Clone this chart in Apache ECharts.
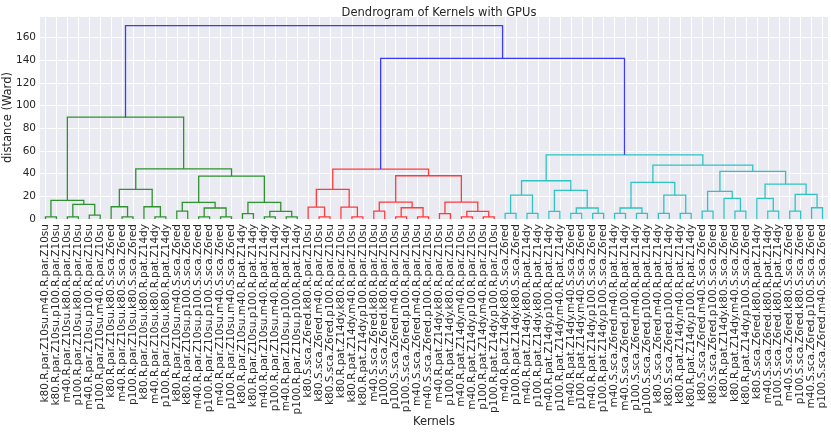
<!DOCTYPE html>
<html>
<head>
<meta charset="utf-8">
<title>Dendrogram of Kernels with GPUs</title>
<script src="https://cdn.jsdelivr.net/npm/echarts@6/dist/echarts.min.js"></script>
<style>
    html, body { margin: 0; padding: 0; background: #fff; }
    #dendro { width: 831px; height: 432px; }
</style>
</head>
<body>
<div id="dendro"></div>
<script>
// leaves, in the order the dendrogram draws them
var leafLabels = [
    'k80.R.par.Z10su.m40.R.par.Z10su', 'k80.R.par.Z10su.p100.R.par.Z10su',
    'm40.R.par.Z10su.k80.R.par.Z10su', 'p100.R.par.Z10su.k80.R.par.Z10su',
    'm40.R.par.Z10su.p100.R.par.Z10su', 'p100.R.par.Z10su.m40.R.par.Z10su',
    'k80.R.par.Z10su.k80.S.sca.Z6red', 'm40.R.par.Z10su.k80.S.sca.Z6red',
    'p100.R.par.Z10su.k80.S.sca.Z6red', 'k80.R.par.Z10su.k80.R.pat.Z14dy',
    'm40.R.par.Z10su.k80.R.pat.Z14dy', 'p100.R.par.Z10su.k80.R.pat.Z14dy',
    'k80.R.par.Z10su.m40.S.sca.Z6red', 'k80.R.par.Z10su.p100.S.sca.Z6red',
    'm40.R.par.Z10su.p100.S.sca.Z6red', 'p100.R.par.Z10su.p100.S.sca.Z6red',
    'm40.R.par.Z10su.m40.S.sca.Z6red', 'p100.R.par.Z10su.m40.S.sca.Z6red',
    'k80.R.par.Z10su.m40.R.pat.Z14dy', 'k80.R.par.Z10su.p100.R.pat.Z14dy',
    'm40.R.par.Z10su.m40.R.pat.Z14dy', 'p100.R.par.Z10su.m40.R.pat.Z14dy',
    'm40.R.par.Z10su.p100.R.pat.Z14dy', 'p100.R.par.Z10su.p100.R.pat.Z14dy',
    'k80.S.sca.Z6red.k80.R.par.Z10su', 'k80.S.sca.Z6red.m40.R.par.Z10su',
    'k80.S.sca.Z6red.p100.R.par.Z10su', 'k80.R.pat.Z14dy.k80.R.par.Z10su',
    'k80.R.pat.Z14dy.m40.R.par.Z10su', 'k80.R.pat.Z14dy.p100.R.par.Z10su',
    'm40.S.sca.Z6red.k80.R.par.Z10su', 'p100.S.sca.Z6red.k80.R.par.Z10su',
    'p100.S.sca.Z6red.m40.R.par.Z10su', 'p100.S.sca.Z6red.p100.R.par.Z10su',
    'm40.S.sca.Z6red.m40.R.par.Z10su', 'm40.S.sca.Z6red.p100.R.par.Z10su',
    'm40.R.pat.Z14dy.k80.R.par.Z10su', 'p100.R.pat.Z14dy.k80.R.par.Z10su',
    'm40.R.pat.Z14dy.m40.R.par.Z10su', 'm40.R.pat.Z14dy.p100.R.par.Z10su',
    'p100.R.pat.Z14dy.m40.R.par.Z10su', 'p100.R.pat.Z14dy.p100.R.par.Z10su',
    'm40.R.pat.Z14dy.k80.S.sca.Z6red', 'p100.R.pat.Z14dy.k80.S.sca.Z6red',
    'm40.R.pat.Z14dy.k80.R.pat.Z14dy', 'p100.R.pat.Z14dy.k80.R.pat.Z14dy',
    'm40.R.pat.Z14dy.p100.R.pat.Z14dy', 'p100.R.pat.Z14dy.m40.R.pat.Z14dy',
    'm40.R.pat.Z14dy.m40.S.sca.Z6red', 'p100.R.pat.Z14dy.m40.S.sca.Z6red',
    'm40.R.pat.Z14dy.p100.S.sca.Z6red', 'p100.R.pat.Z14dy.p100.S.sca.Z6red',
    'm40.S.sca.Z6red.m40.R.pat.Z14dy', 'm40.S.sca.Z6red.p100.R.pat.Z14dy',
    'p100.S.sca.Z6red.m40.R.pat.Z14dy', 'p100.S.sca.Z6red.p100.R.pat.Z14dy',
    'k80.S.sca.Z6red.m40.R.pat.Z14dy', 'k80.S.sca.Z6red.p100.R.pat.Z14dy',
    'k80.R.pat.Z14dy.m40.R.pat.Z14dy', 'k80.R.pat.Z14dy.p100.R.pat.Z14dy',
    'k80.S.sca.Z6red.m40.S.sca.Z6red', 'k80.S.sca.Z6red.p100.S.sca.Z6red',
    'k80.R.pat.Z14dy.k80.S.sca.Z6red', 'k80.R.pat.Z14dy.m40.S.sca.Z6red',
    'k80.R.pat.Z14dy.p100.S.sca.Z6red', 'k80.S.sca.Z6red.k80.R.pat.Z14dy',
    'm40.S.sca.Z6red.k80.R.pat.Z14dy', 'p100.S.sca.Z6red.k80.R.pat.Z14dy',
    'm40.S.sca.Z6red.k80.S.sca.Z6red', 'p100.S.sca.Z6red.k80.S.sca.Z6red',
    'm40.S.sca.Z6red.p100.S.sca.Z6red', 'p100.S.sca.Z6red.m40.S.sca.Z6red'
];

// linkage rows [left, right, distance]; ids 0..71 are leaves, row k makes cluster 72 + k
var greenMerges = [
    [0, 1, 1.8], [2, 3, 1.8], [4, 5, 3.5], [73, 74, 12.9], [72, 75, 16.4],
    [7, 8, 1.8], [6, 77, 10.8], [10, 11, 1.8], [9, 79, 10.8], [78, 80, 26.1],
    [12, 13, 7.0], [14, 15, 1.8], [16, 17, 1.8], [83, 84, 9.7], [82, 85, 14.7],
    [18, 19, 4.7], [20, 21, 1.8], [22, 23, 1.8], [88, 89, 6.8], [87, 90, 14.7],
    [86, 91, 37.8], [81, 92, 44.2], [76, 93, 89.7]
];
var redMerges = [
    [25, 26, 1.8], [24, 95, 10.5], [28, 29, 1.8], [27, 97, 10.5], [96, 98, 26.1],
    [30, 31, 7.0], [32, 33, 1.8], [34, 35, 1.8], [101, 102, 9.9], [100, 103, 14.9],
    [36, 37, 4.7], [38, 39, 1.8], [40, 41, 1.8], [106, 107, 6.8], [105, 108, 14.9],
    [104, 109, 38.1], [99, 110, 44.0]
];
var cyanMerges = [
    [42, 43, 5.0], [44, 45, 5.0], [112, 113, 21.1], [46, 47, 6.8], [48, 49, 5.0],
    [50, 51, 5.0], [116, 117, 9.7], [115, 118, 25.2], [114, 119, 33.7],
    [52, 53, 5.0], [54, 55, 5.0], [121, 122, 9.7], [56, 57, 5.0], [58, 59, 5.0],
    [124, 125, 21.1], [123, 126, 32.3], [60, 61, 7.0], [63, 64, 7.0], [62, 129, 18.2],
    [128, 130, 24.4], [66, 67, 7.0], [65, 132, 18.2], [68, 69, 7.0], [70, 71, 9.9],
    [134, 135, 21.7], [133, 136, 30.8], [131, 137, 41.9], [127, 138, 47.5],
    [120, 139, 56.5]
];
var topMerges = [
    [111, 140, 141.5], [94, 141, 170.3]
];

var clusterColors = ['#2e922e', '#ff3b3b', '#2ec4c4'];
var aboveColor = '#3b3bff';

var merges = greenMerges.concat(redMerges, cyanMerges, topMerges);
var n = leafLabels.length;

// same layout as scipy: leaf i sits at 5 + 10 * i, a cluster sits between its children
var nodeX = [], nodeH = [];
for (var i = 0; i < n; i++) {
    nodeX[i] = 5 + 10 * i;
    nodeH[i] = 0;
}
merges.forEach(function (m, k) {
    nodeX[n + k] = (nodeX[m[0]] + nodeX[m[1]]) / 2;
    nodeH[n + k] = m[2];
});

var root = n + merges.length - 1;
var threshold = 0.7 * nodeH[root];
var nodeColor = {};
var nextColor = 0;
function paint(id, color) {
    if (id < n) return;
    if (!color && nodeH[id] < threshold) {
        color = clusterColors[nextColor++ % clusterColors.length];
    }
    nodeColor[id] = color || aboveColor;
    var m = merges[id - n];
    paint(m[0], color);
    paint(m[1], color);
}
paint(root, null);

var links = merges.map(function (m, k) {
    var id = n + k;
    return {
        coords: [
            [nodeX[m[0]], nodeH[m[0]]],
            [nodeX[m[0]], nodeH[id]],
            [nodeX[m[1]], nodeH[id]],
            [nodeX[m[1]], nodeH[m[1]]]
        ],
        lineStyle: { color: nodeColor[id] }
    };
});

var font = 'DejaVu Sans';
var textColor = '#262626';

var myChart = echarts.init(document.getElementById('dendro'));
var option = {
    animation: false,
    backgroundColor: '#ffffff',
    title: {
        text: 'Dendrogram of Kernels with GPUs',
        left: 434,
        textAlign: 'center',
        top: 2,
        textStyle: { fontFamily: font, fontSize: 11.5, fontWeight: 'normal', color: textColor }
    },
    grid: {
        left: 40,
        right: 3,
        top: 16,
        bottom: 213,
        show: true,
        backgroundColor: '#EAEAF2',
        borderWidth: 0,
        outerBoundsMode: 'none',
        containLabel: false
    },
    xAxis: [
        {
            type: 'value',
            min: 0,
            max: 10 * n,
            show: false
        },
        {
            type: 'category',
            position: 'bottom',
            data: leafLabels,
            name: 'Kernels',
            nameLocation: 'middle',
            nameGap: 197,
            nameMoveOverlap: false,
            nameTextStyle: { fontFamily: font, fontSize: 11.5, color: textColor },
            axisLine: { show: false },
            axisTick: { show: false },
            axisLabel: {
                interval: 0,
                rotate: 90,
                margin: 5,
                fontFamily: font,
                fontSize: 10.5,
                color: textColor
            },
            splitLine: {
                show: true,
                alignWithLabel: true,
                lineStyle: { color: '#ffffff', width: 1 }
            }
        }
    ],
    yAxis: {
        type: 'value',
        min: 0,
        max: 1.05 * nodeH[root],
        interval: 20,
        name: 'distance (Ward)',
        nameLocation: 'middle',
        nameGap: 26,
        nameMoveOverlap: false,
        nameTextStyle: { fontFamily: font, fontSize: 11.5, color: textColor },
        axisLine: { show: false },
        axisTick: { show: false },
        axisLabel: {
            margin: 4,
            showMaxLabel: false,
            fontFamily: font,
            fontSize: 10.5,
            color: textColor
        },
        splitLine: { lineStyle: { color: '#ffffff', width: 1 } }
    },
    series: [
        {
            type: 'lines',
            coordinateSystem: 'cartesian2d',
            xAxisIndex: 0,
            yAxisIndex: 0,
            polyline: true,
            silent: true,
            lineStyle: { width: 1.3, opacity: 1 },
            data: links
        }
    ]
};
myChart.setOption(option);
</script>
</body>
</html>
